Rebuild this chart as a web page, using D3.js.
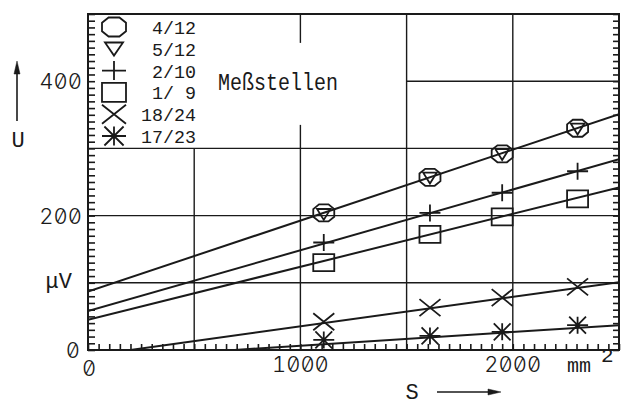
<!DOCTYPE html>
<html>
<head>
<meta charset="utf-8">
<script src="https://cdn.jsdelivr.net/npm/d3@7/dist/d3.min.js"></script>
<style>
  body { margin: 0; background: #fff; }
  text { font-family: "Liberation Mono", "DejaVu Sans Mono", monospace; fill: #1a1a1a; }
  text.num { font-family: Inter, "DejaVu Sans Mono", sans-serif; font-feature-settings: "zero" 1, "tnum" 1; font-weight: 300; }
</style>
</head>
<body>
<div id="chart"></div>
<script>
// cross-section S (mm2) of the measured points
const sValues = [1110, 1610, 1950, 2305];

// U (µV) per Meßstelle
const u_4_12 = [204, 257, 292, 330];
const u_5_12 = [202, 256, 291, 329];
const u_2_10 = [160, 204, 234, 266];
const u_1_9 = [130, 172, 198, 225];
const u_18_24 = [42, 63, 78, 94];
const u_17_23 = [15, 21, 27, 37];

// fitted straight lines, as [S, U] end points
const fit_4_12 = [[0, 87], [2500, 351]];
const fit_2_10 = [[0, 58], [2500, 284]];
const fit_1_9 = [[0, 45], [2500, 242]];
const fit_18_24 = [[200, 0], [2500, 101]];
const fit_17_23 = [[690, 0], [2500, 37]];

const legendLabels = [' 4/12', ' 5/12', ' 2/10', ' 1/ 9', '18/24', '17/23'];
const xTickLabels = [0, 1000, 2000];
const yTickLabels = [0, 200, 400];

const cfg = {
  width: 624, height: 406,
  left: 88, right: 619, top: 14, bottom: 350,
  ink: '#1a1a1a'
};

const series = [
  { name: legendLabels[0], values: u_4_12, marker: 'octagon', fit: fit_4_12 },
  { name: legendLabels[1], values: u_5_12, marker: 'triangle', fit: null },
  { name: legendLabels[2], values: u_2_10, marker: 'plus', fit: fit_2_10 },
  { name: legendLabels[3], values: u_1_9, marker: 'square', fit: fit_1_9 },
  { name: legendLabels[4], values: u_18_24, marker: 'cross', fit: fit_18_24 },
  { name: legendLabels[5], values: u_17_23, marker: 'star', fit: fit_17_23 }
];

function markerPath(type, w, h) {
  const a = w / 2, b = h / 2;
  switch (type) {
    case 'octagon': {
      const c = 0.45;
      return `M${-a * c},${-b}L${a * c},${-b}L${a},${-b * c}L${a},${b * c}L${a * c},${b}L${-a * c},${b}L${-a},${b * c}L${-a},${-b * c}Z`;
    }
    case 'triangle':
      return `M${-a * 0.75},${-b * 0.7}L${a * 0.75},${-b * 0.7}L0,${b * 0.75}Z`;
    case 'plus':
      return `M${-a},0H${a}M0,${-b}V${b}`;
    case 'square':
      return `M${-a},${-b}H${a}V${b}H${-a}Z`;
    case 'cross':
      return `M${-a},${-b}L${a},${b}M${a},${-b}L${-a},${b}`;
    case 'star':
      return `M${-a * 0.8},${-b}L${a * 0.8},${b}M${a * 0.8},${-b}L${-a * 0.8},${b}M${-a},0H${a}M0,${-b}V${b}`;
  }
}

const svg = d3.select('#chart').append('svg')
  .attr('width', cfg.width)
  .attr('height', cfg.height);

const x = d3.scaleLinear().domain([0, 2500]).range([cfg.left, cfg.right]);
const y = d3.scaleLinear().domain([0, 500]).range([cfg.bottom, cfg.top]);

svg.append('defs').append('clipPath').attr('id', 'plot')
  .append('rect')
  .attr('x', cfg.left).attr('y', cfg.top)
  .attr('width', cfg.right - cfg.left).attr('height', cfg.bottom - cfg.top);

// grid lines (with the gaps left for legend and caption)
const grid = svg.append('g').attr('stroke', cfg.ink).attr('stroke-width', 1.4);
const vGrid = [
  [500, 0, 300], [1000, 0, 335], [1000, 457, 500], [1500, 0, 500], [2000, 0, 500]
];
const hGrid = [
  [100, 0, 2500], [200, 0, 2500], [300, 0, 2500], [400, 1500, 2500]
];
grid.selectAll('line.v').data(vGrid).join('line')
  .attr('x1', d => x(d[0])).attr('x2', d => x(d[0]))
  .attr('y1', d => y(d[1])).attr('y2', d => y(d[2]));
grid.selectAll('line.h').data(hGrid).join('line')
  .attr('y1', d => y(d[0])).attr('y2', d => y(d[0]))
  .attr('x1', d => x(d[1])).attr('x2', d => x(d[2]));

// minor tick axes
const axisStyle = g => {
  g.select('.domain').remove();
  g.selectAll('line').attr('stroke', cfg.ink).attr('stroke-width', 1.6);
  g.selectAll('text').remove();
};
svg.append('g').attr('transform', `translate(${cfg.left},0)`)
  .call(d3.axisRight(y).tickValues(d3.range(0, 501, 10)).tickSize(7).tickFormat(''))
  .call(axisStyle);
svg.append('g').attr('transform', `translate(${cfg.right},0)`)
  .call(d3.axisLeft(y).tickValues(d3.range(0, 501, 10)).tickSize(6).tickFormat(''))
  .call(axisStyle);
svg.append('g').attr('transform', `translate(0,${cfg.bottom})`)
  .call(d3.axisTop(x).tickValues(d3.range(0, 2501, 50)).tickSize(6).tickFormat(''))
  .call(axisStyle);

// frame
svg.append('rect')
  .attr('x', cfg.left).attr('y', cfg.top)
  .attr('width', cfg.right - cfg.left).attr('height', cfg.bottom - cfg.top)
  .attr('fill', 'none').attr('stroke', cfg.ink).attr('stroke-width', 2);

// fitted lines
const line = d3.line().x(d => x(d[0])).y(d => y(d[1]));
svg.append('g').attr('clip-path', 'url(#plot)')
  .selectAll('path').data(series.filter(s => s.fit)).join('path')
  .attr('d', s => line(s.fit))
  .attr('fill', 'none').attr('stroke', cfg.ink).attr('stroke-width', 2);

// measured points
series.forEach(s => {
  const w = s.marker === 'triangle' ? 18 : 21;
  const h = s.marker === 'triangle' ? 15 : 17;
  svg.append('g').selectAll('path').data(s.values).join('path')
    .attr('transform', (d, i) => `translate(${x(sValues[i])},${y(d)})`)
    .attr('d', markerPath(s.marker, w, h))
    .attr('fill', 'none').attr('stroke', cfg.ink).attr('stroke-width', 1.8);
});

// legend
const legend = svg.append('g');
series.forEach((s, i) => {
  const cy = 27 + i * 21.8;
  legend.append('path')
    .attr('transform', `translate(114,${cy})`)
    .attr('d', markerPath(s.marker, 24, s.marker === 'triangle' ? 18 : 19))
    .attr('fill', 'none').attr('stroke', cfg.ink).attr('stroke-width', 1.8);
  legend.append('text')
    .attr('x', 196).attr('y', cy + 7)
    .attr('text-anchor', 'end')
    .attr('font-size', 19)
    .attr('xml:space', 'preserve')
    .attr('textLength', 55).attr('lengthAdjust', 'spacingAndGlyphs')
    .text(s.name);
});
svg.append('text')
  .attr('x', 218).attr('y', 90)
  .attr('font-size', 23)
  .attr('textLength', 120).attr('lengthAdjust', 'spacingAndGlyphs')
  .text('Meßstellen');

// tick labels
svg.selectAll('text.yl').data(yTickLabels).join('text')
  .attr('class', 'num')
  .attr('x', d => d === 0 ? 80 : 82)
  .attr('y', d => y(d) + 8)
  .attr('text-anchor', 'end')
  .attr('font-size', 22)
  .text(d => d);
svg.selectAll('text.xl').data(xTickLabels).join('text')
  .attr('class', 'num')
  .attr('x', d => x(d) + (d === 0 ? 1 : 0))
  .attr('y', d => d === 0 ? 376 : 372)
  .attr('text-anchor', 'middle')
  .attr('font-size', 22)
  .text(d => d);

// units and axis titles
svg.append('text').attr('x', 72).attr('y', 288).attr('text-anchor', 'end')
  .attr('font-size', 22).text('μV');
svg.append('text').attr('x', 567).attr('y', 372).attr('font-size', 20).text('mm');
svg.append('text').attr('x', 601).attr('y', 362).attr('font-size', 21).text('2');
svg.append('text').attr('x', 18).attr('y', 147).attr('text-anchor', 'middle')
  .attr('font-size', 22).text('U');
svg.append('text').attr('x', 412).attr('y', 399).attr('text-anchor', 'middle')
  .attr('font-size', 22).text('S');

// arrows
const arrows = svg.append('g').attr('stroke', cfg.ink).attr('fill', cfg.ink);
arrows.append('line').attr('x1', 17).attr('x2', 17).attr('y1', 121).attr('y2', 70).attr('stroke-width', 1.6);
arrows.append('path').attr('d', 'M17,61L14,74L20,74Z').attr('stroke-width', 0.5);
arrows.append('line').attr('x1', 437).attr('x2', 490).attr('y1', 392).attr('y2', 392).attr('stroke-width', 1.6);
arrows.append('path').attr('d', 'M501,392L488,389L488,395Z').attr('stroke-width', 0.5);
</script>
</body>
</html>
